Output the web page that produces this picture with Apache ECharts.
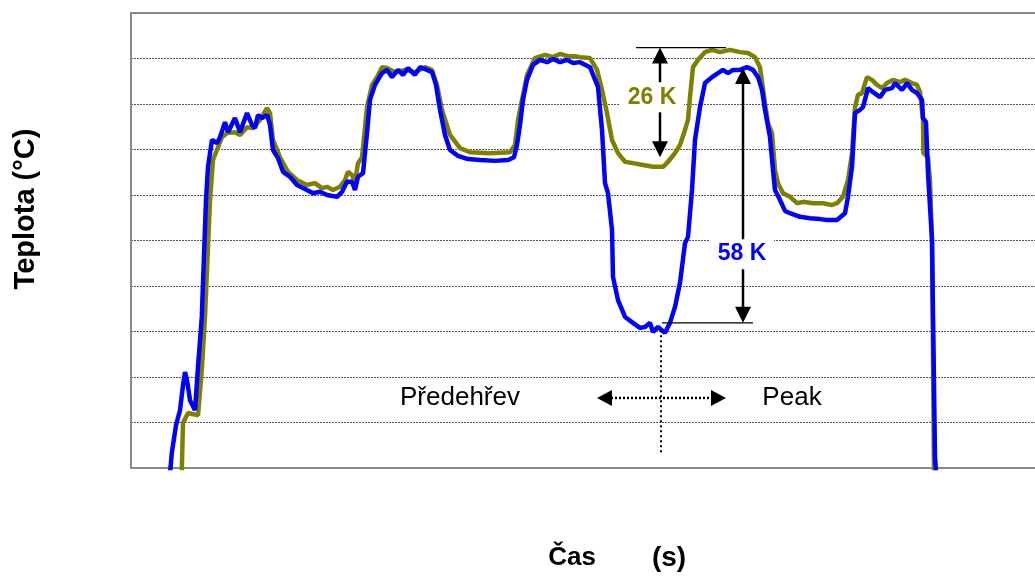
<!DOCTYPE html>
<html>
<head>
<meta charset="utf-8">
<script src="https://cdn.jsdelivr.net/npm/echarts@6/dist/echarts.min.js"></script>
<style>
  html, body { margin: 0; padding: 0; background: #fff; }
  #chart { width: 1035px; height: 576px; }
</style>
</head>
<body>
<div id="chart"></div>
<script>
// time (s) / temperature (°C)
const blueTime = [19,20.4,22.5,24.5,26,27,28,29.5,32,33.5,35.4,37.5,38.5,40.5,43,44.5,47,48.5,52,54.5,58,60.5,62,63.5,65.5,68,69.5,71,73.5,76,79.5,83,88,91,94.5,98,103,105.5,108,110.5,112,113.5,116,118,119.5,122,125.5,128,130.5,133.5,136,138.5,142,144.5,148,150.5,152.5,154.5,157,159.5,163.5,168.5,174.5,182,188.5,191.5,193,194.5,196,198,201,204.5,208,211,214.5,218,221,224.5,229.5,233.5,235.5,237,238.5,240.5,241,243.5,247,251,254.5,257,259.5,261,263.5,267,269.5,272,274.5,277,278.5,280.5,282,284.5,287,290.5,293.5,296,298.5,301,304.5,308,311,313.5,315.5,317,319.5,321,322,324.5,327,329.5,334.5,339.5,344.5,348,353,357,358.5,360.5,362,364.5,366,368.5,371,374.5,377,380.5,382,385.5,388,390.5,393,395.5,396,397.5,398.5,400.5,402,403];
const blueTemp = [146.3,153.3,159.4,162.7,168.2,171.1,169.3,164.9,162.7,172.2,183.2,208.9,216.2,222.1,221.4,222.7,226.0,223.8,226.9,223.8,228.0,225.4,224.7,227.6,226.9,227.6,225.4,219.9,218.1,215.1,214.0,212.2,211.1,210.4,210.7,210.0,209.6,210.7,212.9,212.9,211.1,214.0,214.8,223.6,230.9,234.2,236.8,237.5,235.9,237.5,236.4,237.9,236.4,238.1,237.5,237.0,234.2,228.7,223.2,219.9,218.6,217.9,217.7,217.5,217.7,218.3,221.0,225.4,230.9,235.3,238.6,239.7,239.2,239.9,239.2,239.7,239.0,239.2,238.1,233.7,224.3,212.6,210.4,202.3,192.0,186.9,183.2,181.9,180.8,181.0,181.9,179.9,181.0,179.7,181.9,185.4,190.7,199.4,200.8,211.1,222.1,229.3,234.6,235.9,236.8,237.5,236.8,237.5,237.5,238.1,237.5,235.9,233.1,228.7,222.7,215.5,211.1,208.9,206.5,206.0,205.2,204.9,204.7,204.5,204.5,206.0,209.6,216.2,228.0,228.7,229.3,233.5,232.6,231.5,233.1,233.5,234.6,233.1,234.6,233.1,232.4,230.9,226.9,226.0,214.8,200.1,152.4,146.3];

const oliveTime = [25,25.4,26,28.5,33.5,35.5,37,39.5,41,43.5,45.5,48,52,54.5,58,61,64.5,68,69.5,71,74.5,78.5,83,88,92,95.5,98,101,104.5,107,108.5,110.5,112,113.5,115.5,118,120.5,123,125.5,128,132,137,142,147,150.5,153,155.5,159.5,164.5,169.5,179.5,189.5,192,193.5,195.5,198,202,207,211,214.5,218.5,222,224.5,229.5,233,235.5,238,240.5,243.5,247,251,256,261,266,268.5,272,274.5,277,278.5,279.5,281,283.5,287,290.5,294.5,299.5,304.5,308.5,312,314.5,317,318.5,320.5,322,323.5,326,329.5,333,336,341,346,350.5,353,356,358.5,360.5,362,363.5,365.5,368,370.5,373,375.5,378,381,384.5,387,390.5,393,394.5,396,396.2,398.5,399.5,400.5,401.5,402];
const oliveTemp = [146.3,149.6,159.9,162.1,161.6,172.2,183.2,208.9,217.7,220.5,222.7,223.6,223.8,223.2,224.9,224.7,226.5,229.1,228.0,222.1,218.3,215.1,213.3,212.2,212.6,211.5,211.8,211.1,211.8,213.3,215.1,214.4,212.9,217.0,218.3,229.3,234.2,235.9,238.1,237.9,237.0,237.5,237.0,238.1,237.5,234.2,228.7,223.2,220.3,219.4,219.2,219.4,221.0,226.5,230.9,236.4,240.1,240.8,240.3,241.0,240.5,240.5,240.3,240.1,237.5,233.1,228.0,222.1,219.2,217.3,217.0,216.6,216.2,216.2,217.3,219.2,221.0,224.3,226.5,231.5,238.1,239.7,241.4,241.9,241.4,241.9,241.4,241.2,240.3,238.1,230.2,225.8,223.6,215.5,212.6,210.4,209.6,208.2,208.5,208.2,208.2,207.8,208.2,209.6,213.3,219.2,229.3,232.0,232.4,235.9,235.3,234.2,233.5,234.6,235.3,234.8,235.3,234.6,234.2,232.6,226.5,219.2,218.3,213.3,200.1,149.6,146.3];

// delta annotations (26 K olive, 58 K blue)
const deltaLabels = ['26 K', '58 K'];
const deltaColors = ['#808000', '#0000ff'];
const deltaTime = [264.5, 306];
const deltaTop = [242.4, 237.9];
const deltaBottom = [218.3, 181.9];
const deltaLabelTime = [260.5, 305.5];
const deltaLabelTemp = [231.5, 197.0];
// thin reference lines: temp, from, to
const refTemp = [242.4, 181.9];
const refFrom = [252.5, 265.5];
const refTo = [297.5, 311];

// phase split
const phaseLabels = ['Předehřev', 'Peak'];
const phaseTime = [164.5, 330.5];
const phaseTemp = 165.4;
const splitTime = 265;
const splitTop = 180.3;
const splitBottom = 152.9;
const splitArrowFrom = 233;
const splitArrowTo = 297.5;

const FONT = '"Liberation Sans", Arial, sans-serif';
const FRAME = { show: true, lineStyle: { color: '#888', width: 2 } };

const chart = echarts.init(document.getElementById('chart'));

function pairs(xs, ys) {
  return xs.map((x, i) => [x, ys[i]]);
}

chart.setOption({
  animation: false,
  grid: { left: 131, right: 0, top: 13, bottom: 108 },
  xAxis: [
    {
      type: 'value', min: 0, max: 452, position: 'bottom',
      axisLine: FRAME, axisTick: { show: false },
      axisLabel: { show: false }, splitLine: { show: false }
    },
    {
      type: 'value', min: 0, max: 452, position: 'top',
      axisLine: FRAME, axisTick: { show: false },
      axisLabel: { show: false }, splitLine: { show: false }
    }
  ],
  yAxis: {
    type: 'value', min: 150, max: 250, interval: 10,
    axisLine: FRAME, axisTick: { show: false },
    axisLabel: { show: false },
    splitLine: { lineStyle: { color: '#555', type: [2, 1], width: 1 } }
  },
  series: [
    {
      type: 'line', data: pairs(oliveTime, oliveTemp), showSymbol: false,
      lineStyle: { color: '#808000', width: 4.5 }, itemStyle: { color: '#808000' }, z: 2
    },
    {
      type: 'line', data: pairs(blueTime, blueTemp), showSymbol: false,
      lineStyle: { color: '#0000ff', width: 4.5 }, itemStyle: { color: '#0000ff' }, z: 3
    }
  ]
});

function px(t, T) {
  return chart.convertToPixel({ xAxisIndex: 0, yAxisIndex: 0 }, [t, T]);
}

function head(x, y, dir, w, h) {
  // dir: 1 = points down, -1 = up, 2 = right, -2 = left
  if (dir === 1) return [[x, y], [x - w, y - h], [x + w, y - h]];
  if (dir === -1) return [[x, y], [x - w, y + h], [x + w, y + h]];
  if (dir === 2) return [[x, y], [x - h, y - w], [x - h, y + w]];
  return [[x, y], [x + h, y - w], [x + h, y + w]];
}

function annotations() {
  const g = [];
  const blackLine = (a, b, w, dash) => ({
    type: 'line', z: 100,
    shape: { x1: a[0], y1: a[1], x2: b[0], y2: b[1] },
    style: { stroke: '#000', lineWidth: w, lineDash: dash || null }
  });
  const poly = (pts) => ({ type: 'polygon', z: 100, shape: { points: pts }, style: { fill: '#000' } });

  refTemp.forEach((T, i) => {
    g.push(blackLine(px(refFrom[i], T), px(refTo[i], T), 1.2));
  });

  deltaLabels.forEach((label, i) => {
    const top = px(deltaTime[i], deltaTop[i]);
    const bot = px(deltaTime[i], deltaBottom[i]);
    g.push(blackLine([top[0], top[1] + 10], [bot[0], bot[1] - 10], 2.5));
    g.push(poly(head(top[0], top[1], -1, 8, 16)));
    g.push(poly(head(bot[0], bot[1], 1, 8, 16)));
    const c = px(deltaLabelTime[i], deltaLabelTemp[i]);
    g.push({
      type: 'rect', z: 101,
      shape: { x: c[0] - 32, y: c[1] - 15, width: 64, height: 30 },
      style: { fill: '#fff' }
    });
    g.push({
      type: 'text', z: 102,
      style: {
        text: label, x: c[0], y: c[1], align: 'center', verticalAlign: 'middle',
        font: 'bold 23px ' + FONT, fill: deltaColors[i]
      }
    });
  });

  // vertical dotted split line
  g.push(blackLine(px(splitTime, splitTop), px(splitTime, splitBottom), 2, [2, 3]));
  // dotted double arrow
  const l = px(splitArrowFrom, phaseTemp);
  const r = px(splitArrowTo, phaseTemp);
  g.push(blackLine([l[0] + 14, l[1]], [r[0] - 14, r[1]], 2.5, [2, 2]));
  g.push(poly(head(l[0], l[1], -2, 8, 15)));
  g.push(poly(head(r[0], r[1], 2, 8, 15)));

  phaseLabels.forEach((label, i) => {
    const c = px(phaseTime[i], phaseTemp);
    g.push({
      type: 'text', z: 102,
      style: {
        text: label, x: c[0], y: c[1], align: 'center', verticalAlign: 'middle',
        font: '26px ' + FONT, fill: '#000'
      }
    });
  });

  // axis titles
  g.push({
    type: 'text', z: 102, x: 26, y: 209, rotation: Math.PI / 2,
    style: {
      text: 'Teplota (°C)', x: 0, y: 0, align: 'center', verticalAlign: 'middle',
      font: 'bold 29px ' + FONT, fill: '#000'
    }
  });
  g.push({
    type: 'text', z: 102,
    style: {
      text: 'Čas', x: 572, y: 558, align: 'center', verticalAlign: 'middle',
      font: 'bold 26px ' + FONT, fill: '#000'
    }
  });
  g.push({
    type: 'text', z: 102,
    style: {
      text: '(s)', x: 669, y: 558, align: 'center', verticalAlign: 'middle',
      font: 'bold 28px ' + FONT, fill: '#000'
    }
  });

  chart.setOption({ graphic: { elements: g } });
}

annotations();
window.addEventListener('resize', () => {
  chart.resize();
  annotations();
});
</script>
</body>
</html>
